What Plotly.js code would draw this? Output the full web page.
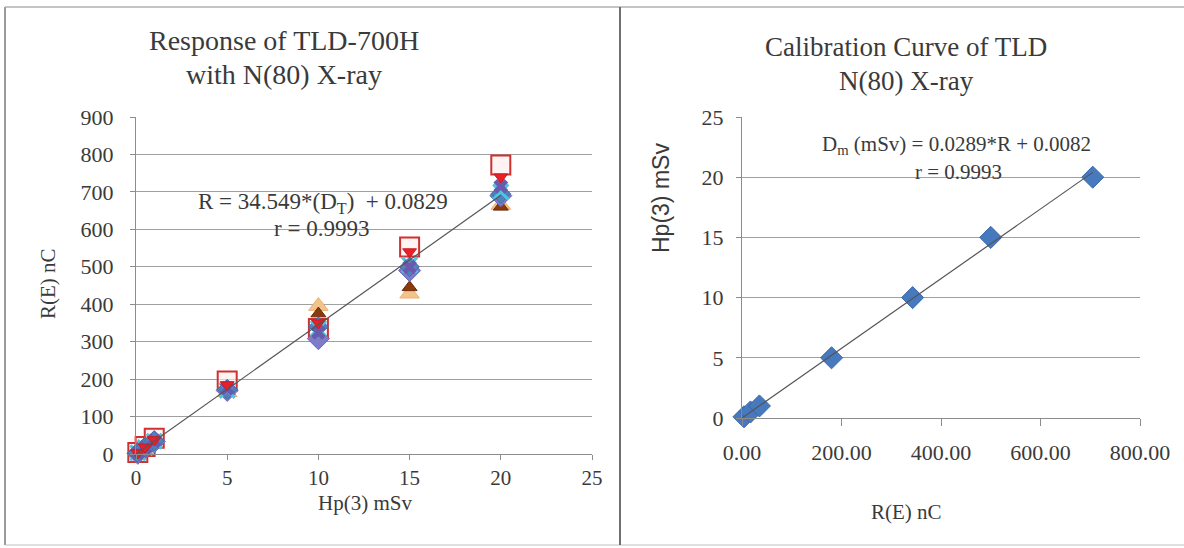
<!DOCTYPE html>
<html>
<head>
<meta charset="utf-8">
<script src="https://cdn.plot.ly/plotly-3.0.1.min.js"></script>
<style>html,body{margin:0;padding:0;background:#fff;}#chart{width:1184px;height:548px;}</style>
</head>
<body>
<div id="chart"></div>
<script>
// ---- Left chart: Response of TLD-700H, R(E) nC vs Hp(3) mSv ----
const doseHp = [0.1, 0.5, 1, 5, 10, 15, 20];
const respDiamondBlue   = [3, 17, 35, 172, 340, 500, 695];
const respSquareRed     = [4, 20, 42, 195, 335, 553, 772];
const respTriDownRed    = [3, 18, 38, 185, 350, 540, 740];
const respXPurple       = [3, 17, 35, 175, 325, 500, 715];
const respXCyan         = [3, 17, 34, 170, 335, 505, 700];
const respTriBrown      = [2, 16, 33, 168, 375, 445, 660];
const respTriTan        = [2, 16, 32, 165, 395, 428, 665];
const respDiamondLav    = [2, 16, 33, 170, 308, 490, 690];
const fitLeftX = [0, 20];
const fitLeftY = [0, 691];

// ---- Right chart: Calibration Curve of TLD ----
const calibR  = [4, 17, 35, 180, 343, 500, 705];
const calibHp = [0.1, 0.5, 1, 5, 10, 15, 20];
const fitRightX = [0, 705];
const fitRightY = [0, 20.4];

const leftXTicks = [0, 5, 10, 15, 20, 25];
const leftYTicks = [0, 100, 200, 300, 400, 500, 600, 700, 800, 900];
const rightXTicks = [0, 200, 400, 600, 800];
const rightXTickText = ['0.00', '200.00', '400.00', '600.00', '800.00'];
const rightYTicks = [0, 5, 10, 15, 20, 25];

const SERIF = '"Liberation Serif", "Times New Roman", serif';
const SANS = '"Liberation Sans", Arial, sans-serif';
const TXT = '#3a3a3a';
const TICK = 22;

function mk(y, symbol, size, color, lineColor, lw) {
  return {
    x: doseHp, y: y, type: 'scatter', mode: 'markers', xaxis: 'x', yaxis: 'y',
    cliponaxis: false, showlegend: false, hoverinfo: 'skip',
    marker: {symbol: symbol, size: size, color: color, line: {color: lineColor, width: lw}}
  };
}

const traces = [
  mk(respTriTan, 'triangle-up', 17, '#F2C48C', '#E8B070', 1),
  mk(respTriBrown, 'triangle-up', 13, '#8B3A0E', '#6E2A05', 1),
  mk(respSquareRed, 'square', 19, 'rgba(255,235,235,0.6)', '#D03030', 2),
  mk(respDiamondLav, 'diamond', 17, '#7C7CC8', '#6A6AB8', 1),
  mk(respDiamondBlue, 'diamond', 15, '#4F81BD', '#3F6FA8', 1),
  mk(respXCyan, 'x-thin-open', 15, '#4BC6E0', '#4BC6E0', 3),
  mk(respXPurple, 'x', 13, '#6A5AAE', '#6A5AAE', 0),
  mk(respTriDownRed, 'triangle-down', 12, '#E8202A', '#C81A20', 1),
  {x: fitLeftX, y: fitLeftY, type: 'scatter', mode: 'lines', xaxis: 'x', yaxis: 'y',
   line: {color: '#555555', width: 1.2}, showlegend: false, hoverinfo: 'skip'},
  {x: calibR, y: calibHp, type: 'scatter', mode: 'markers', xaxis: 'x2', yaxis: 'y2',
   cliponaxis: false, showlegend: false, hoverinfo: 'skip',
   marker: {symbol: 'diamond', size: 17, color: '#4679BE', line: {color: '#3A68A8', width: 1}}},
  {x: fitRightX, y: fitRightY, type: 'scatter', mode: 'lines', xaxis: 'x2', yaxis: 'y2',
   line: {color: '#555555', width: 1.2}, showlegend: false, hoverinfo: 'skip'}
];

const W = 1184, H = 548;
const px = v => v / W, py = v => 1 - v / H;

function ann(x, y, text, size, family, extra) {
  return Object.assign({xref: 'paper', yref: 'paper', x: px(x), y: py(y), text: text,
    showarrow: false, font: {family: family || SERIF, size: size, color: TXT},
    xanchor: 'center', yanchor: 'middle'}, extra || {});
}

const layout = {
  width: W, height: H,
  margin: {l: 0, r: 0, t: 0, b: 0},
  paper_bgcolor: '#ffffff', plot_bgcolor: 'rgba(0,0,0,0)',
  showlegend: false,
  font: {family: SERIF, color: TXT, size: TICK},
  xaxis: {
    domain: [px(136), px(592)], range: [0, 25], tickvals: leftXTicks,
    showgrid: false, zeroline: false, showline: true, linecolor: '#8c8c8c', linewidth: 1,
    ticks: 'outside', ticklen: 5, tickcolor: '#8c8c8c',
    tickfont: {family: SERIF, size: 21, color: TXT},
    fixedrange: true
  },
  yaxis: {
    domain: [py(454), py(117)], range: [0, 900], tickvals: leftYTicks,
    showgrid: true, gridcolor: '#a0a0a0', gridwidth: 1, zeroline: false,
    showline: true, linecolor: '#8c8c8c', ticks: 'outside', ticklen: 5, tickcolor: '#8c8c8c',
    tickfont: {family: SERIF, size: TICK, color: TXT}, ticklabelstandoff: 12,
    fixedrange: true
  },
  xaxis2: {
    domain: [px(742), px(1140)], range: [0, 800], tickvals: rightXTicks, ticktext: rightXTickText,
    anchor: 'y2',
    showgrid: false, zeroline: false, showline: true, linecolor: '#8c8c8c',
    ticks: 'outside', ticklen: 7, tickcolor: '#8c8c8c',
    tickfont: {family: SERIF, size: TICK, color: TXT}, ticklabelstandoff: 8,
    fixedrange: true
  },
  yaxis2: {
    domain: [py(418), py(117)], range: [0, 25], tickvals: rightYTicks, anchor: 'x2',
    showgrid: true, gridcolor: '#a0a0a0', zeroline: false,
    showline: true, linecolor: '#8c8c8c', ticks: 'outside', ticklen: 5, tickcolor: '#8c8c8c',
    tickfont: {family: SERIF, size: TICK, color: TXT}, ticklabelstandoff: 8,
    fixedrange: true
  },
  annotations: [
    ann(284, 41, 'Response of TLD-700H', 28),
    ann(284, 75, 'with N(80) X-ray', 28),
    ann(906, 47, 'Calibration Curve of TLD', 27),
    ann(906, 81, 'N(80) X-ray', 27),
    ann(323, 203, 'R = 34.549*(D<sub>T</sub>)  + 0.0829', 23),
    ann(321, 228, 'r = 0.9993', 23),
    ann(957, 145, 'D<sub>m</sub> (mSv) = 0.0289*R + 0.0082', 21),
    ann(958, 172, 'r = 0.9993', 21),
    ann(365, 503, 'Hp(3) mSv', 21),
    ann(48, 284, 'R(E) nC', 21, SERIF, {textangle: -90}),
    ann(906, 512, 'R(E) nC', 21),
    ann(661, 198, 'Hp(3) mSv', 23, SANS, {textangle: -90})
  ],
  shapes: [
    {type: 'line', xref: 'paper', yref: 'paper', x0: px(5), x1: px(5), y0: py(7), y1: py(545), line: {color: '#9a9a9a', width: 2}},
    {type: 'line', xref: 'paper', yref: 'paper', x0: px(5), x1: px(1184), y0: py(7), y1: py(7), line: {color: '#b0b0b0', width: 1.5}},
    {type: 'line', xref: 'paper', yref: 'paper', x0: px(5), x1: px(1184), y0: py(545), y1: py(545), line: {color: '#c0c0c0', width: 1}},
    {type: 'line', xref: 'paper', yref: 'paper', x0: px(620), x1: px(620), y0: py(7), y1: py(545), line: {color: '#707070', width: 2}}
  ]
};

Plotly.newPlot('chart', traces, layout, {staticPlot: true, displayModeBar: false});
</script>
</body>
</html>
